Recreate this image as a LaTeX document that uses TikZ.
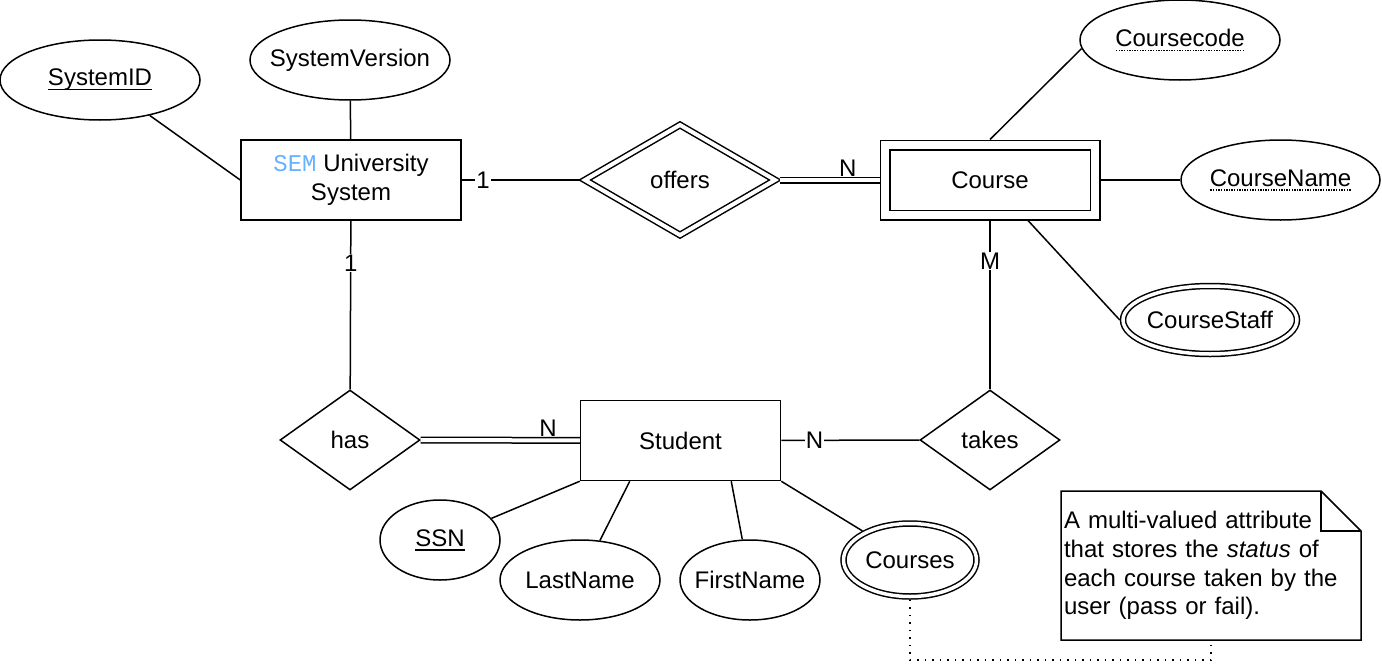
\documentclass[tikz,border=0pt]{standalone}
\usepackage{fontspec}
\setmainfont{Liberation Sans}
\setmonofont{Liberation Mono}
\usetikzlibrary{shapes.geometric}
% underlines for keys: solid for keys, dotted for partial keys
\newsavebox\keybox
\newcommand\fullkey[1]{\sbox\keybox{#1}\rlap{\raisebox{-4.5pt}{\rule{\wd\keybox}{1.3pt}}}\usebox\keybox}
\newcommand\partkey[1]{\sbox\keybox{#1}\rlap{\raisebox{-4.5pt}{\hbox to \wd\keybox{\xleaders\hbox{\kern.6pt\rule{1.4pt}{1.4pt}\kern.6pt}\hfil}}}\usebox\keybox}
\definecolor{semblue}{RGB}{102,178,255}
\begin{document}
\begin{tikzpicture}[x=1pt,y=-1pt,line width=1.5pt,
	every node/.style={font=\fontsize{24pt}{28.8pt}\selectfont},
	entity/.style={draw,rectangle,minimum width=200pt,minimum height=80pt,inner sep=2pt},
	weakentity/.style={entity,double,double distance=8pt,outer sep=5.5pt,minimum width=210pt,minimum height=70pt},
	attr/.style={draw,ellipse,minimum width=200pt,minimum height=80pt,inner sep=0pt,
		execute at begin node={\hbox to 0pt\bgroup\hss},execute at end node={\hss\egroup}},
	multi/.style={attr,double,double distance=3.5pt,outer sep=3.25pt},
	rel/.style={draw,diamond,minimum width=140pt,minimum height=100pt,inner sep=0pt,aspect=1.4},
	idrel/.style={rel,double,double distance=4pt,outer sep=3.5pt,aspect=1.67},
	total/.style={double,double distance=4pt},
	card/.style={fill=white,inner sep=1pt}]
\useasboundingbox (0,0) rectangle (1382,664);
% entities and relationships
\node[entity,minimum width=220pt,align=center] (uni) at (351,180) {{\color{semblue}\ttfamily SEM} University\\System};
\node[idrel,minimum width=193pt,minimum height=113pt] (offers) at (680,180) {offers};
\node[weakentity] (course) at (990,180) {Course};
\node[rel] (has) at (350,440) {has};
\node[entity] (stu) at (680.5,440.5) {Student};
\node[rel] (takes) at (990,440) {takes};
% attributes
\node[attr] (sysid) at (100,80) {\fullkey{SystemID}};
\node[attr] (sysver) at (350,60) {SystemVersion};
\node[attr] (cc) at (1180,40) {\partkey{Coursecode}};
\node[attr,minimum width=199pt] (cname) at (1280.5,180) {\partkey{CourseName}};
\node[multi,minimum width=174pt,minimum height=68pt] (cstaff) at (1210,320) {CourseStaff};
\node[attr,minimum width=120pt] (ssn) at (440,540) {\fullkey{SSN}};
\node[attr,minimum width=160pt] (lname) at (580,580) {LastName};
\node[attr,minimum width=140pt] (fname) at (750,580) {FirstName};
\node[multi,minimum width=133pt,minimum height=73pt] (courses) at (910,560) {Courses};
% relationship lines
\draw (uni) -- node[card,pos=0.18] (oneOffers) {1} (offers);
\draw[total] (offers) -- node[above,pos=0.68,inner sep=3pt] (nOffers) {N} (course);
\draw (uni) -- node[card,pos=0.25] (oneHas) {1} (has);
\draw[total] (has) -- node[above,pos=0.8,inner sep=3pt] (nHas) {N} (stu);
\draw (stu) -- node[card,pos=0.24] (nTakes) {N} (takes);
\draw (course) -- node[card,pos=0.24] (mTakes) {M} (takes);
% attribute lines
\draw (sysid) -- (uni.west);
\draw (sysver) -- (uni);
\draw (course.north) -- (cc.185);
\draw (course) -- (cname);
\draw ([xshift=38pt]course.south) -- (cstaff.west);
\draw (stu.south west) -- (ssn);
\draw ([xshift=50pt]stu.south west) -- (lname);
\draw ([xshift=-50pt]stu.south east) -- (fname);
\draw (stu.south east) -- (courses);
% note
\node[text width=294pt,minimum width=300pt,minimum height=149pt,inner xsep=3pt,outer sep=0pt,align=left] (note) at (1211,565.5)
	{A multi-valued attribute\\that stores the \textit{status} of\\each course taken by the\\user (pass or fail).};
\draw (note.north west) -- ([xshift=-40pt]note.north east) -- ([yshift=-40pt]note.north east)
	-- (note.south east) -- (note.south west) -- cycle;
\draw ([xshift=-40pt]note.north east) |- ([yshift=-40pt]note.north east);
\coordinate (annoLow) at (1211,660);
\draw[dash pattern=on 1.5pt off 6pt] (courses.south) |- (annoLow) -- (note.south);
\end{tikzpicture}
\end{document}
